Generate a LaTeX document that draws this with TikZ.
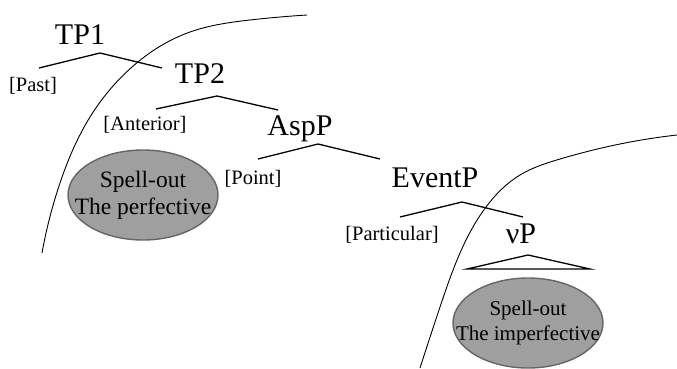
\documentclass[tikz,border=0pt]{standalone}
\usepackage{fontspec}
\setmainfont{Liberation Serif}
\usetikzlibrary{hobby}
\tikzset{
  phrase/.style={anchor=base, inner sep=0pt, font=\fontsize{30}{36}\selectfont},
  feature/.style={anchor=base, inner sep=0pt, font=\fontsize{20.5}{24}\selectfont},
  branch/.style={line width=1.3pt},
  boundary/.style={line width=0.9pt},
  spellout/.style={fill=gray!75, draw=gray!80!black, line width=1.4pt}
}

\begin{document}
\begin{tikzpicture}[x=1pt, y=-1pt]
        \useasboundingbox (0,0) rectangle (677,369);
        \draw[boundary, use Hobby shortcut] (42,253) .. (60,183) .. (90,117) .. (132,67) .. (190,32) .. (250,20) .. (307,15);
        \draw[boundary, use Hobby shortcut] (420,368) .. (440,307) .. (460,253) .. (486,207) .. (520,175) .. (560,159) .. (620,144) .. (677,135);
        \node[phrase] (tpone) at (80,45) {TP1};
        \node[phrase] (tptwo) at (200,83) {TP2};
        \node[phrase] (asp) at (300,135) {AspP};
        \node[phrase] (event) at (435,187) {EventP};
        \node[phrase] (vp) at (521,243) {νP};
        \node[feature] (past) at (33,91) {[Past]};
        \node[feature] (anterior) at (145,130) {[Anterior]};
        \node[feature] (point) at (253,184) {[Point]};
        \node[feature] (particular) at (392,240) {[Particular]};
        \coordinate (tpone-top) at (100,53);
        \coordinate (past-end) at (39,68);
        \coordinate (tptwo-end) at (162,68);
        \draw[branch] (past-end) -- (tpone-top) -- (tptwo-end);
        \coordinate (tptwo-top) at (217,96);
        \coordinate (anterior-end) at (156,109);
        \coordinate (asp-end) at (278,110);
        \draw[branch] (anterior-end) -- (tptwo-top) -- (asp-end);
        \coordinate (asp-top) at (318,144);
        \coordinate (point-end) at (258,159);
        \coordinate (event-end) at (380,159);
        \draw[branch] (point-end) -- (asp-top) -- (event-end);
        \coordinate (event-top) at (462,202);
        \coordinate (particular-end) at (400,217);
        \coordinate (vp-end) at (523,217);
        \draw[branch] (particular-end) -- (event-top) -- (vp-end);
        \coordinate (vp-top) at (528,255);
        \coordinate (vp-left) at (467,269);
        \coordinate (vp-right) at (590,269);
        \draw[branch] (vp-left) -- (vp-top) -- (vp-right) -- cycle;
        \draw[spellout] (143,195) ellipse [x radius=75, y radius=45];
        \node[align=center, inner sep=0pt, font=\fontsize{23.5}{27}\selectfont] (perf) at (143,195) {Spell-out\\The perfective};
        \draw[spellout] (528,323) ellipse [x radius=75, y radius=45];
        \node[align=center, inner sep=0pt, font=\fontsize{21}{25}\selectfont] (imperf) at (528,323) {Spell-out\\The imperfective};
      \end{tikzpicture}
\end{document}
